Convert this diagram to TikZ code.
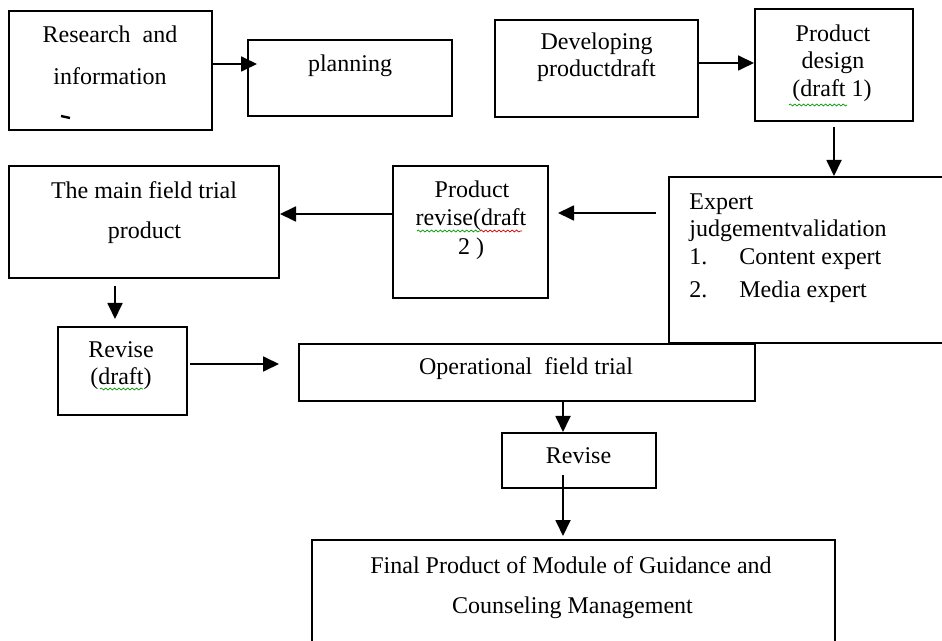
\documentclass[tikz,border=0pt]{standalone}
\usepackage{fontspec}
\setmainfont{Liberation Serif}
\usetikzlibrary{arrows.meta,fit,decorations.pathmorphing}
\begin{document}
\begin{tikzpicture}[x=0.5pt,y=-0.5pt,
  box/.style={draw=black,line width=1pt,inner sep=0pt,fill=none},
  txt/.style={anchor=base,inner sep=0pt,font=\fontsize{12}{14}\selectfont},
  ltxt/.style={anchor=base west,inner sep=0pt,font=\fontsize{12}{14}\selectfont},
  arr/.style={line width=0.9pt,-{Triangle[length=8pt,width=7.5pt]}},
  wavyg/.style={draw=green!60!black,line width=0.35pt,decorate,decoration={snake,amplitude=0.5pt,segment length=2.2pt}},
  wavyr/.style={draw=red!80!black,line width=0.35pt,decorate,decoration={snake,amplitude=0.5pt,segment length=2.2pt}}]
\useasboundingbox (0,0) rectangle (942,641);
\fill[white] (0,0) rectangle (942,641);
% boxes
\node[box,fit={(9,11) (212,130)}] (b1) {};
\node[box,fit={(248,40) (452,116)}] (b2) {};
\node[box,fit={(495,20) (698,117)}] (b3) {};
\node[box,fit={(755,9) (913,121)}] (b4) {};
\node[box,fit={(669,177) (950,343)}] (b5) {};
\node[box,fit={(393,166) (548,298)}] (b6) {};
\node[box,fit={(9,166) (279,278)}] (b7) {};
\node[box,fit={(58,327) (187,415)}] (b8) {};
\node[box,fit={(299,344) (755,401)}] (b9) {};
\node[box,fit={(502,433) (656,488)}] (b10) {};
\node[box,fit={(312,540) (835,660)}] (b11) {};
% texts
\node[txt] (t1a) at (110,43) {Research\ \ and};
\node[txt] (t1b) at (110,85) {information};
\draw[line width=1.2pt] (61,116) -- (70,118);
\node[txt] (t2) at (350,72) {planning};
\node[txt] (t3a) at (596.5,50) {Developing};
\node[txt] (t3b) at (596.5,77) {productdraft};
\node[txt] (t4a) at (833,42) {Product};
\node[txt] (t4b) at (833,69) {design};
\node[txt] (t4c) at (832,97) {(draft 1)};
\draw[wavyg] (789,105) -- (847,105);
\node[ltxt] (t5a) at (689,210) {Expert};
\node[ltxt] (t5b) at (689,237) {judgementvalidation};
\node[ltxt] (t5c) at (689,265) {1.};
\node[ltxt] (t5d) at (739,265) {Content expert};
\node[ltxt] (t5e) at (689,298) {2.};
\node[ltxt] (t5f) at (739,298) {Media expert};
\node[txt] (t6a) at (472,198) {Product};
\node[txt] (t6b) at (471,226) {revise(draft};
\node[txt] (t6c) at (471,255) {2 )};
\draw[wavyg] (417,231) -- (480,231);
\draw[wavyr] (480,231) -- (522,231);
\node[txt] (t7a) at (144,199) {The main field trial};
\node[txt] (t7b) at (144.5,239) {product};
\node[txt] (t8a) at (121,358) {Revise};
\node[txt] (t8b) at (121,385) {(draft)};
\draw[wavyg] (100,389) -- (143,389);
\node[txt] (t9) at (526,375) {Operational\ \ field trial};
\node[txt] (t10) at (578.5,464) {Revise};
\node[txt] (t11a) at (571,573) {Final Product of Module of Guidance and};
\node[txt] (t11b) at (572.5,613) {Counseling Management};
% connectors
\coordinate (a1e) at (257,64);
\draw[arr] (b1.east |- a1e) -- (a1e);
\coordinate (a2e) at (754,63);
\draw[arr] (b3.east |- a2e) -- (a2e);
\coordinate (a3s) at (834,127);
\draw[arr] (a3s) -- (a3s |- b5.north);
\coordinate (a4s) at (656,213);
\coordinate (a4e) at (558,213);
\draw[arr] (a4s) -- (a4e);
\coordinate (a5) at (0,214);
\draw[arr] (b6.west |- a5) -- (b7.east |- a5);
\coordinate (a6s) at (115,286);
\coordinate (a6e) at (115,319);
\draw[arr] (a6s) -- (a6e);
\coordinate (a7s) at (190,364);
\coordinate (a7e) at (279,364);
\draw[arr] (a7s) -- (a7e);
\coordinate (a8) at (563,0);
\draw[arr] (b9.south -| a8) -- (b10.north -| a8);
\coordinate (a9s) at (563,475);
\coordinate (a9e) at (563,536);
\draw[arr] (a9s) -- (a9e);
\end{tikzpicture}
\end{document}
